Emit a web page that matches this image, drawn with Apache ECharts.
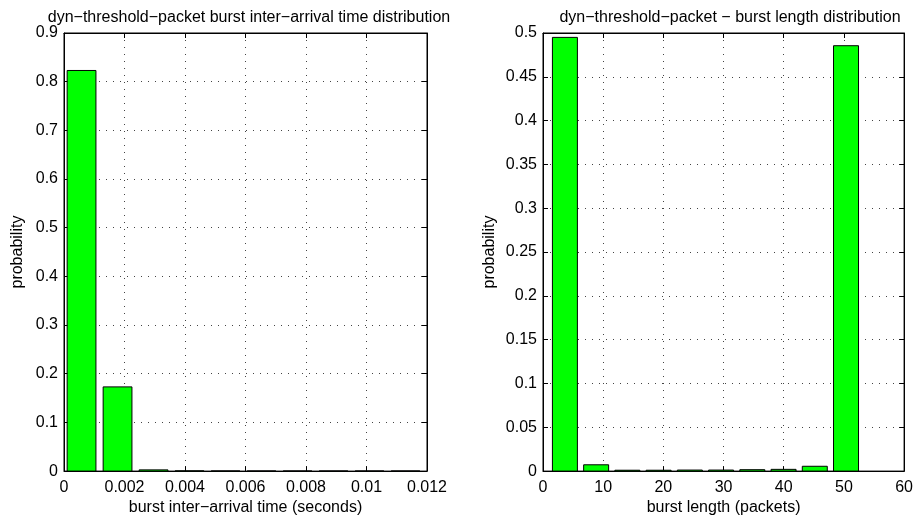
<!DOCTYPE html>
<html>
<head>
<meta charset="utf-8">
<script src="https://cdn.jsdelivr.net/npm/echarts@6/dist/echarts.min.js"></script>
<style>
html,body{margin:0;padding:0;background:#fff;}
#chart{width:916px;height:521px;}
</style>
</head>
<body>
<div id="chart"></div>
<script>
// ---- data ----
var leftTitle = 'dyn\u2212threshold\u2212packet burst inter\u2212arrival time distribution';
var rightTitle = 'dyn\u2212threshold\u2212packet \u2212 burst length distribution';
var leftXName = 'burst inter\u2212arrival time (seconds)';
var rightXName = 'burst length (packets)';
var yName = 'probability';

var leftCenters = [0.00058, 0.00177, 0.00296, 0.00415, 0.00534, 0.00653, 0.00772, 0.00891, 0.0101, 0.01129];
var leftProb = [0.823, 0.173, 0.0025, 0.0004, 0.0002, 0.0001, 0.0001, 0.0001, 0.0001, 0.0001];

var rightCenters = [3.64, 8.83, 14.02, 19.21, 24.40, 29.59, 34.78, 39.97, 45.16, 50.35];
var rightProb = [0.495, 0.0072, 0.001, 0.001, 0.0012, 0.0012, 0.0016, 0.002, 0.0055, 0.4855];

var leftXTicks = [0, 0.002, 0.004, 0.006, 0.008, 0.01, 0.012];
var leftYTicks = [0, 0.1, 0.2, 0.3, 0.4, 0.5, 0.6, 0.7, 0.8, 0.9];
var rightXTicks = [0, 10, 20, 30, 40, 50, 60];
var rightYTicks = [0, 0.05, 0.1, 0.15, 0.2, 0.25, 0.3, 0.35, 0.4, 0.45, 0.5];

// ---- style ----
var FONT = 'Liberation Sans, Arial, Helvetica, sans-serif';
var FS = 16;
var gridLine = {show: true, lineStyle: {color: '#444', width: 1, type: [1, 6]}};
var lab = {color: '#000', fontSize: FS, fontFamily: FONT};

function ticksAxis(ticks) {
  return {
    min: ticks[0], max: ticks[ticks.length - 1],
    interval: ticks[1] - ticks[0]
  };
}

function mainX(gi, ticks, name) {
  var r = ticksAxis(ticks);
  return {
    type: 'value', gridIndex: gi, position: 'bottom',
    min: r.min, max: r.max, interval: r.interval,
    name: name, nameLocation: 'middle', nameGap: 27,
    nameTextStyle: {color: '#000', fontSize: FS, fontFamily: FONT},
    axisLine: {show: true, onZero: false, lineStyle: {color: '#000', width: 1}},
    axisTick: {show: true, inside: true, length: 5, lineStyle: {color: '#000'}},
    axisLabel: Object.assign({margin: 8, formatter: function (v) { return String(+v.toFixed(6)); }}, lab),
    splitLine: gridLine
  };
}
function mirrorX(gi, ticks) {
  var r = ticksAxis(ticks);
  return {
    type: 'value', gridIndex: gi, position: 'top',
    min: r.min, max: r.max, interval: r.interval,
    axisLine: {show: true, onZero: false, lineStyle: {color: '#000', width: 1}},
    axisTick: {show: true, inside: true, length: 5, lineStyle: {color: '#000'}},
    axisLabel: {show: false}, splitLine: {show: false}
  };
}
function mainY(gi, ticks, gap) {
  var r = ticksAxis(ticks);
  return {
    type: 'value', gridIndex: gi, position: 'left',
    min: r.min, max: r.max, interval: r.interval,
    name: yName, nameLocation: 'middle', nameGap: gap,
    nameTextStyle: {color: '#000', fontSize: FS, fontFamily: FONT},
    axisLine: {show: true, onZero: false, lineStyle: {color: '#000', width: 1}},
    axisTick: {show: true, inside: true, length: 5, lineStyle: {color: '#000'}},
    axisLabel: Object.assign({margin: 6, formatter: function (v) { return String(+v.toFixed(6)); }}, lab),
    splitLine: gridLine
  };
}
function mirrorY(gi, ticks) {
  var r = ticksAxis(ticks);
  return {
    type: 'value', gridIndex: gi, position: 'right',
    min: r.min, max: r.max, interval: r.interval,
    axisLine: {show: true, onZero: false, lineStyle: {color: '#000', width: 1}},
    axisTick: {show: true, inside: true, length: 5, lineStyle: {color: '#000'}},
    axisLabel: {show: false}, splitLine: {show: false}
  };
}

function barSeries(xi, yi, centers, probs) {
  var w = 0.8 * (centers[1] - centers[0]);
  var data = centers.map(function (c, i) { return [c, probs[i]]; });
  return {
    type: 'custom', xAxisIndex: xi, yAxisIndex: yi, data: data,
    renderItem: function (params, api) {
      var c = api.value(0), v = api.value(1);
      var p0 = api.coord([c - w / 2, 0]);
      var p1 = api.coord([c + w / 2, v]);
      return {
        type: 'rect',
        shape: {x: p0[0], y: p1[1], width: p1[0] - p0[0], height: p0[1] - p1[1]},
        style: {fill: '#00ff00', stroke: '#000', lineWidth: 1}
      };
    }
  };
}

var chart = echarts.init(document.getElementById('chart'), null, {renderer: 'canvas'});
chart.setOption({
  backgroundColor: '#fff',
  animation: false,
  textStyle: {fontFamily: FONT},
  title: [
    {text: leftTitle, left: 244, top: 5, textAlign: 'center',
     textStyle: {fontSize: FS, fontWeight: 'normal', color: '#000', fontFamily: FONT}},
    {text: rightTitle, left: 725, top: 5, textAlign: 'center',
     textStyle: {fontSize: FS, fontWeight: 'normal', color: '#000', fontFamily: FONT}}
  ],
  grid: [
    {left: 64, right: 489, top: 33, bottom: 47, show: true, borderColor: '#000', borderWidth: 1, backgroundColor: '#fff'},
    {left: 543, right: 10, top: 33, bottom: 47, show: true, borderColor: '#000', borderWidth: 1, backgroundColor: '#fff'}
  ],
  xAxis: [mainX(0, leftXTicks, leftXName), mirrorX(0, leftXTicks),
          mainX(1, rightXTicks, rightXName), mirrorX(1, rightXTicks)],
  yAxis: [mainY(0, leftYTicks, 38), mirrorY(0, leftYTicks),
          mainY(1, rightYTicks, 45), mirrorY(1, rightYTicks)],
  series: [barSeries(0, 0, leftCenters, leftProb), barSeries(2, 2, rightCenters, rightProb)]
});
</script>
</body>
</html>
